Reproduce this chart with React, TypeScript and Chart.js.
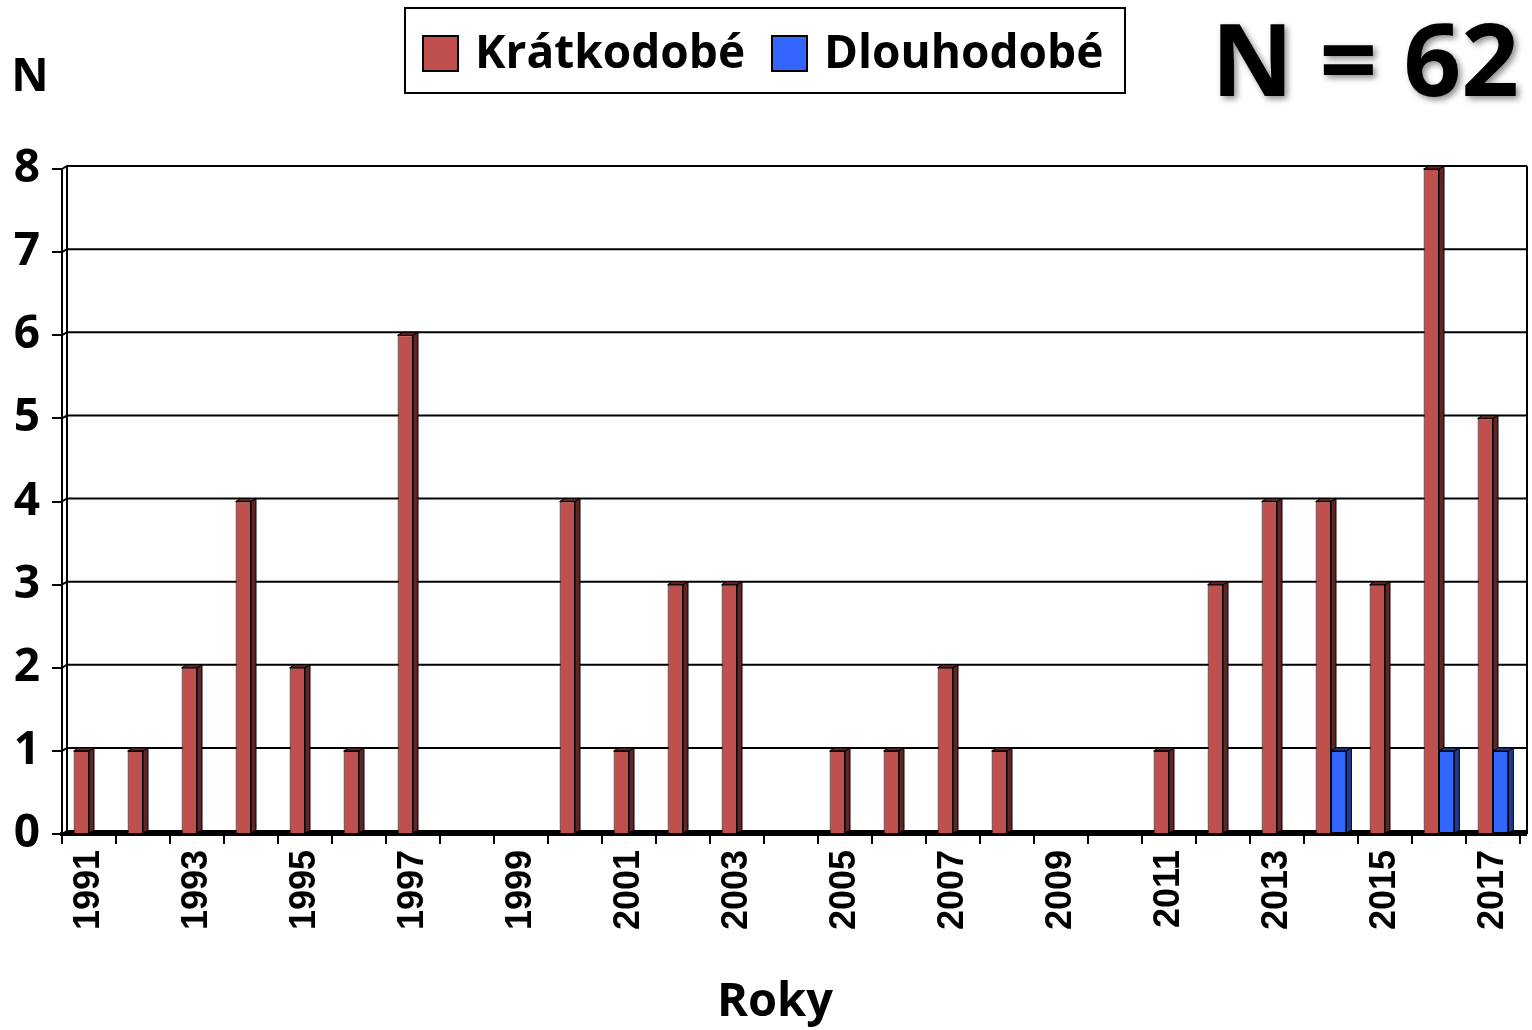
import React, { useEffect, useRef } from "react";
import { Chart, registerables } from "chart.js";

Chart.register(...registerables);

const years = [
  "1991", "1992", "1993", "1994", "1995", "1996", "1997", "1998", "1999",
  "2000", "2001", "2002", "2003", "2004", "2005", "2006", "2007", "2008",
  "2009", "2010", "2011", "2012", "2013", "2014", "2015", "2016", "2017",
];
const shortTerm = [1, 1, 2, 4, 2, 1, 6, 0, 0, 4, 1, 3, 3, 0, 1, 1, 2, 1, 0, 0, 1, 3, 4, 4, 3, 8, 5];
const longTerm = [0, 0, 0, 0, 0, 0, 0, 0, 0, 0, 0, 0, 0, 0, 0, 0, 0, 0, 0, 0, 0, 0, 0, 1, 0, 1, 1];
const seriesNames = ["Krátkodobé", "Dlouhodobé"];
const yTicks = [0, 1, 2, 3, 4, 5, 6, 7, 8];
const yTitle = "N";
const xTitle = "Roky";
const totalLabel = "N = 62";

const FRONT = ["#C0504D", "#3366FF"];
const SIDE = ["#632523", "#1F3A8F"];
const DX = 5;
const DY = 3;
const SANS = "'Open Sans', 'DejaVu Sans', sans-serif";

const wallPlugin = {
  id: "wall",
  beforeDatasetsDraw(chart: any) {
    const { ctx, chartArea } = chart;
    const y = chart.scales.y;
    const left = chartArea.left;
    const right = chartArea.right + 7;
    ctx.save();
    ctx.strokeStyle = "#000";
    ctx.lineWidth = 2;
    yTicks.forEach((v) => {
      const py = y.getPixelForValue(v);
      ctx.beginPath();
      ctx.moveTo(left, py);
      ctx.lineTo(left + DX, py - DY);
      ctx.lineTo(right, py - DY);
      ctx.stroke();
    });
    ctx.beginPath();
    ctx.moveTo(left + DX, y.getPixelForValue(8) - DY);
    ctx.lineTo(left + DX, y.getPixelForValue(0) - DY);
    ctx.stroke();
    ctx.beginPath();
    ctx.moveTo(right, y.getPixelForValue(8) - DY);
    ctx.lineTo(right, y.getPixelForValue(0));
    ctx.stroke();
    ctx.lineWidth = 4;
    ctx.beginPath();
    ctx.moveTo(left - 2, y.getPixelForValue(0));
    ctx.lineTo(right, y.getPixelForValue(0));
    ctx.stroke();
    ctx.restore();
  },
  afterDatasetsDraw(chart: any) {
    const { ctx } = chart;
    ctx.save();
    ctx.strokeStyle = "#000";
    ctx.lineWidth = 1;
    chart.data.datasets.forEach((ds: any, idx: number) => {
      const meta = chart.getDatasetMeta(idx);
      meta.data.forEach((bar: any, i: number) => {
        if (!ds.data[i]) return;
        const p = bar.getProps(["x", "y", "base", "width"], true);
        const l = p.x - p.width / 2;
        const r = p.x + p.width / 2;
        if (idx > 0) {
          ctx.fillStyle = FRONT[idx];
          ctx.fillRect(l, p.y, p.width, p.base - p.y);
          ctx.strokeRect(l + 0.5, p.y + 0.5, p.width - 1, p.base - p.y - 1);
        }
        ctx.fillStyle = SIDE[idx];
        ctx.beginPath();
        ctx.moveTo(r, p.y);
        ctx.lineTo(r + DX, p.y - DY);
        ctx.lineTo(r + DX, p.base - DY);
        ctx.lineTo(r, p.base);
        ctx.closePath();
        ctx.fill();
        ctx.stroke();
        ctx.beginPath();
        ctx.moveTo(l, p.y);
        ctx.lineTo(l + DX, p.y - DY);
        ctx.lineTo(r + DX, p.y - DY);
        ctx.lineTo(r, p.y);
        ctx.closePath();
        ctx.fill();
        ctx.stroke();
      });
    });
    ctx.restore();
  },
  afterDraw(chart: any) {
    const { ctx } = chart;
    ctx.save();
    // legend box
    ctx.strokeStyle = "#000";
    ctx.lineWidth = 2;
    ctx.fillStyle = "#fff";
    ctx.fillRect(405, 8, 720, 85);
    ctx.strokeRect(405, 8, 720, 85);
    const items = [
      { x: 423, text: seriesNames[0], color: FRONT[0] },
      { x: 772, text: seriesNames[1], color: FRONT[1] },
    ];
    ctx.font = `bold 46px ${SANS}`;
    ctx.textBaseline = "middle";
    ctx.textAlign = "left";
    items.forEach((it) => {
      ctx.fillStyle = it.color;
      ctx.fillRect(it.x, 36, 35, 35);
      ctx.strokeRect(it.x, 36, 35, 35);
      ctx.fillStyle = "#000";
      ctx.fillText(it.text, it.x + 52, 55);
    });
    // y title
    ctx.font = `bold 46px ${SANS}`;
    ctx.textAlign = "center";
    ctx.fillText(yTitle, 30, 78);
    // x title
    ctx.font = `bold 47px ${SANS}`;
    ctx.fillText(xTitle, 775, 1003);
    // total
    ctx.shadowColor = "rgba(0,0,0,0.45)";
    ctx.shadowBlur = 6;
    ctx.shadowOffsetX = 3;
    ctx.shadowOffsetY = 3;
    ctx.font = `bold 101px ${SANS}`;
    ctx.textAlign = "right";
    ctx.textBaseline = "alphabetic";
    ctx.fillText(totalLabel, 1519, 96);
    ctx.restore();
  },
};

export default function App() {
  const ref = useRef<HTMLCanvasElement | null>(null);
  useEffect(() => {
    document.body.style.margin = "0";
    if (!ref.current) return;
    const chart = new Chart(ref.current, {
      type: "bar",
      data: {
        labels: years,
        datasets: [
          {
            label: seriesNames[0],
            data: shortTerm,
            backgroundColor: FRONT[0],
            borderColor: "#000",
            borderWidth: 1,
            categoryPercentage: 0.57,
            barPercentage: 1,
          },
          {
            label: seriesNames[1],
            data: longTerm,
            backgroundColor: FRONT[1],
            borderColor: "#000",
            borderWidth: 1,
            categoryPercentage: 0.57,
            barPercentage: 1,
          },
        ],
      },
      options: {
        animation: false,
        responsive: false,
        maintainAspectRatio: false,
        layout: { padding: { top: 169, right: 12, bottom: 0, left: 0 } },
        plugins: {
          legend: { display: false },
          tooltip: { enabled: false },
        },
        scales: {
          x: {
            type: "category",
            offset: true,
            grid: {
              display: true,
              offset: true,
              drawOnChartArea: false,
              tickLength: 10,
              color: "#000",
              lineWidth: 2,
            },
            border: { display: true, color: "#000", width: 2 },
            ticks: {
              autoSkip: false,
              minRotation: 90,
              maxRotation: 90,
              padding: 6,
              color: "#000",
              font: { family: "'Liberation Sans', Arial, sans-serif", weight: "bold", size: 36 },
              callback: (_v: any, i: number) => (i % 2 === 0 ? years[i] : ""),
            },
            title: { display: false, text: xTitle },
            afterFit: (s: any) => {
              s.height = 196;
              s.paddingLeft = 0;
              s.paddingRight = 0;
            },
          },
          y: {
            min: 0,
            max: 8,
            afterBuildTicks: (s: any) => {
              s.ticks = yTicks.map((v) => ({ value: v }));
            },
            grid: {
              display: true,
              drawOnChartArea: false,
              tickLength: 10,
              color: "#000",
              lineWidth: 2,
            },
            border: { display: true, color: "#000", width: 2 },
            ticks: {
              padding: 12,
              color: "#000",
              font: { family: SANS, weight: "bold", size: 46 },
            },
            afterFit: (s: any) => {
              s.width = 62;
              s.paddingTop = 0;
              s.paddingBottom = 0;
            },
          },
        },
      },
      plugins: [wallPlugin],
    });
    return () => chart.destroy();
  }, []);
  return (
    <div style={{ width: 1532, height: 1030, background: "#fff" }}>
      <canvas ref={ref} width={1532} height={1030} style={{ display: "block" }} />
    </div>
  );
}
